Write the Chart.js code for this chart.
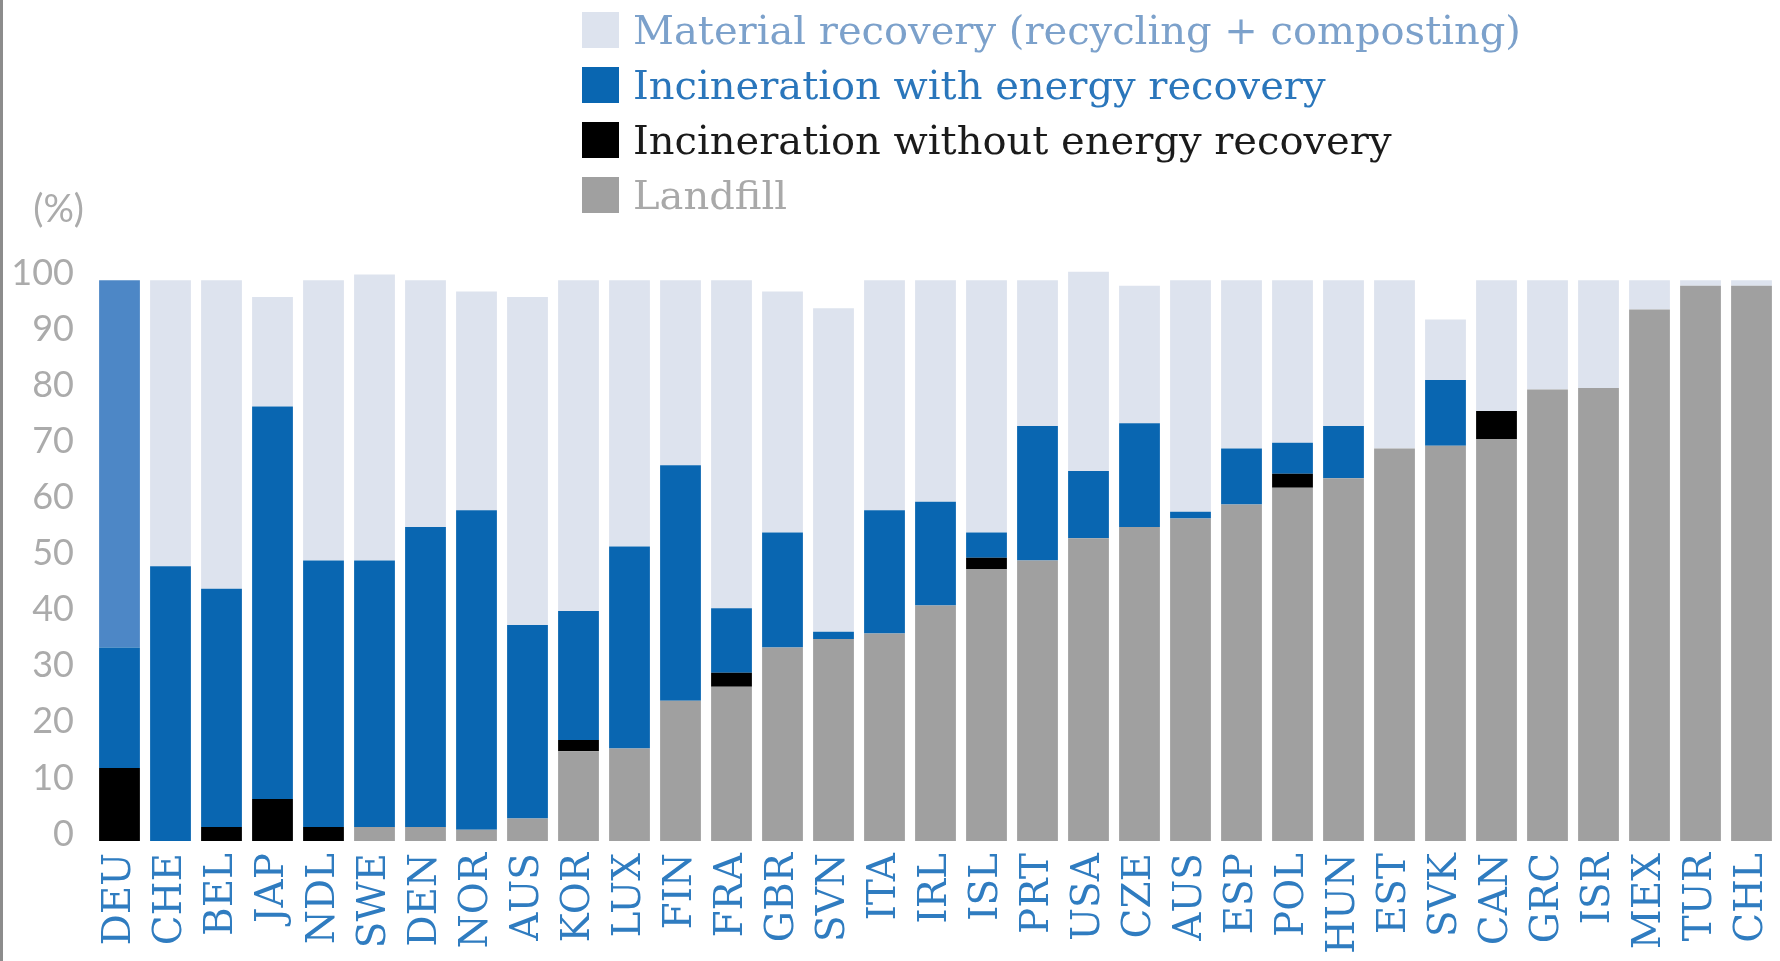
<!DOCTYPE html>
<html lang="en">

<head>
    <meta charset="UTF-8" />
    <title>Municipal waste treatment by country</title>
    <script src="https://cdn.jsdelivr.net/npm/chart.js@4.4.1/dist/chart.umd.min.js"></script>
    <style>
        body { margin: 0; background: #fff; }
        #wrap { position: relative; width: 1780px; height: 961px; overflow: hidden; }
        #frame { position: absolute; left: 0; top: 0; width: 3px; height: 961px; background: #8c8c8c; }
        #legend { position: absolute; left: 582px; top: 2px; font-family: "DejaVu Serif", serif; font-size: 40px; }
        #legend .row { display: flex; align-items: center; height: 55px; }
        #legend .box { width: 37px; height: 36px; margin-right: 14px; }
    </style>
</head>

<body>
    <div id="wrap">
        <canvas id="chart" width="1780" height="961"></canvas>
        <div id="frame"></div>
        <div id="legend"></div>
    </div>

<script>
    // countries, in the order shown
    const countries = ['DEU', 'CHE', 'BEL', 'JAP', 'NDL', 'SWE', 'DEN', 'NOR', 'AUS', 'KOR', 'LUX',
        'FIN', 'FRA', 'GBR', 'SVN', 'ITA', 'IRL', 'ISL', 'PRT', 'USA', 'CZE', 'AUS', 'ESP', 'POL',
        'HUN', 'EST', 'SVK', 'CAN', 'GRC', 'ISR', 'MEX', 'TUR', 'CHL'];

    // share of municipal waste (%) by treatment
    const landfill = [0, 0, 0, 0, 0, 2.5, 2.5, 2, 4, 16, 16.5,
        25, 27.5, 34.5, 36, 37, 42, 48.5, 50, 54, 56, 57.5, 60, 63,
        64.7, 70, 70.5, 71.7, 80.5, 80.8, 94.8, 99, 99];
    const noEnergy = [13, 0, 2.5, 7.5, 2.5, 0, 0, 0, 0, 2, 0,
        0, 2.5, 0, 0, 0, 0, 2, 0, 0, 0, 0, 0, 2.5,
        0, 0, 0, 5, 0, 0, 0, 0, 0];
    const withEnergy = [21.5, 49, 42.5, 70, 47.5, 47.5, 53.5, 57, 34.5, 23, 36,
        42, 11.5, 20.5, 1.3, 22, 18.5, 4.5, 24, 12, 18.5, 1.2, 10, 5.5,
        9.3, 0, 11.7, 0, 0, 0, 0, 0, 0];
    const material = [65.5, 51, 55, 19.5, 50, 51, 44, 39, 58.5, 59, 47.5,
        33, 58.5, 43, 57.7, 41, 39.5, 45, 26, 35.5, 24.5, 41.3, 30, 29,
        26, 30, 10.8, 23.3, 19.5, 19.2, 5.2, 1, 1];

    const yTicks = [0, 10, 20, 30, 40, 50, 60, 70, 80, 90, 100];

    const seriesNames = ['Landfill', 'Incineration without energy recovery',
        'Incineration with energy recovery', 'Material recovery (recycling + composting)'];
    const barColors = ['#a0a0a0', '#000000', '#0966b1', '#dde3ee'];
    const textColors = ['#a9a9a9', '#1b1b1b', '#2a76bb', '#7ca1cb'];
    const highlight = '#4d87c6'; // first country's recovery share

    const datasets = [landfill, noEnergy, withEnergy, material].map((values, i) => ({
        label: seriesNames[i],
        data: values,
        backgroundColor: i === 3 ? countries.map((c, j) => j === 0 ? highlight : barColors[3]) : barColors[i],
        borderWidth: 0,
        categoryPercentage: 1,
        barPercentage: 0.8
    }));

    // legend, top series first
    const legend = document.getElementById('legend');
    for (let i = seriesNames.length - 1; i >= 0; i--) {
        const row = document.createElement('div');
        row.className = 'row';
        row.innerHTML = '<div class="box" style="background:' + barColors[i] + '"></div>' +
            '<span style="color:' + textColors[i] + '">' + seriesNames[i] + '</span>';
        legend.appendChild(row);
    }

    // "(%)" above the value axis
    const unitLabel = {
        id: 'unitLabel',
        afterDraw(chart) {
            const y = chart.scales.y;
            const ctx = chart.ctx;
            ctx.save();
            ctx.font = '38px Lato';
            ctx.fillStyle = '#ababab';
            ctx.textAlign = 'right';
            ctx.textBaseline = 'middle';
            ctx.fillText('(%)', y.right - 10, y.getPixelForValue(100) - 70);
            ctx.restore();
        }
    };

    new Chart(document.getElementById('chart'), {
        type: 'bar',
        data: { labels: countries, datasets: datasets },
        plugins: [unitLabel],
        options: {
            responsive: false,
            animation: false,
            layout: { padding: { top: 269, right: 3, left: 0, bottom: 0 } },
            plugins: { legend: { display: false }, tooltip: { enabled: false } },
            scales: {
                x: {
                    stacked: true,
                    grid: { display: false },
                    border: { display: false },
                    ticks: {
                        autoSkip: false,
                        minRotation: 90,
                        maxRotation: 90,
                        padding: 4,
                        color: '#2f7cc0',
                        font: { family: 'DejaVu Serif', size: 39 }
                    },
                    // bars run right to the edge; ignore the overhang of the end labels
                    afterFit: s => { s.height = 120; s.paddingLeft = 0; s.paddingRight = 0; }
                },
                y: {
                    stacked: true,
                    min: 0,
                    max: 102,
                    grid: { display: false },
                    border: { display: false },
                    afterBuildTicks: s => { s.ticks = yTicks.map(v => ({ value: v })); },
                    ticks: {
                        includeBounds: false,
                        padding: 12,
                        labelOffset: -7,
                        color: '#ababab',
                        font: { family: 'Lato', size: 36 }
                    },
                    afterFit: s => { s.width = 94; }
                }
            }
        }
    });
</script>
</body>

</html>
